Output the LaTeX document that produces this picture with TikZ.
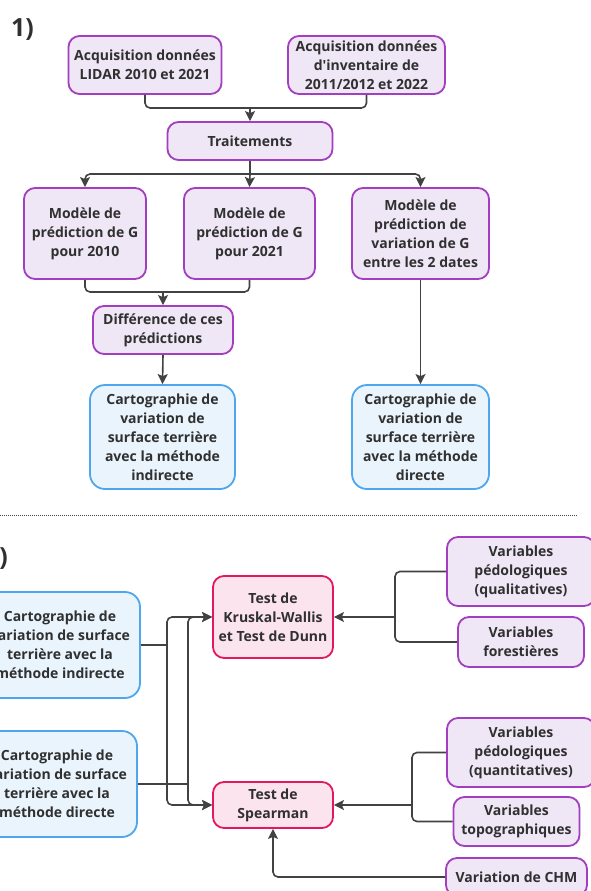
\documentclass[tikz,border=0pt]{standalone}
\usepackage{fontspec}
\setmainfont{Open Sans}
\usetikzlibrary{arrows.meta}

\definecolor{boxpurple}{HTML}{A33EC0}
\definecolor{fillpurple}{HTML}{EFE6F6}
\definecolor{boxblue}{HTML}{4DA6EE}
\definecolor{fillblue}{HTML}{E9F4FD}
\definecolor{boxpink}{HTML}{E2195F}
\definecolor{fillpink}{HTML}{FBE4EE}
\definecolor{linegray}{HTML}{424242}
\definecolor{textgray}{HTML}{303030}

\begin{document}
\begin{tikzpicture}[x=1pt, y=-1pt,
    box/.style={draw, line width=1.8pt, rounded corners=11pt, align=center,
      inner sep=0pt, font=\fontsize{14}{19}\selectfont\bfseries, text=textgray},
    size/.style 2 args={minimum width=#1pt, minimum height=#2pt},
    purplebox/.style={box, draw=boxpurple, fill=fillpurple},
    bluebox/.style={box, draw=boxblue, fill=fillblue},
    pinkbox/.style={box, draw=boxpink, fill=fillpink},
    line/.style={draw=linegray, line width=1.6pt, rounded corners=5pt},
    arrow/.style={line, -{Stealth[length=10pt, width=10pt, inset=2pt]}},
    numlabel/.style={font=\fontsize{25}{30}\selectfont\bfseries, text=textgray, inner sep=0pt}
  ]

  \path[use as bounding box, fill=white] (0,0) rectangle (590,891);

  % --- partie 1 ---
  \node[numlabel, anchor=base west] (num1) at (11,37) {1)};

  \node[purplebox, size={153}{58}] (acqlidar) at (145,65)
    {Acquisition données\\LIDAR 2010 et 2021};
  \node[purplebox, size={157}{58}] (acqinv) at (366.5,65)
    {Acquisition données\\d\textquotesingle inventaire de\\2011/2012 et 2022};
  \node[purplebox, size={165}{38}] (traitements) at (250,141) {Traitements};

  \node[purplebox, size={122}{91}] (pred2010) at (85,233.5)
    {Modèle de\\prédiction de G\\pour 2010};
  \node[purplebox, size={131}{91}] (pred2021) at (249.5,233.5)
    {Modèle de\\prédiction de G\\pour 2021};
  \node[purplebox, size={137}{91}] (predvar) at (420.5,233.5)
    {Modèle de\\prédiction de\\variation de G\\entre les 2 dates};

  \node[purplebox, size={140}{48}] (diff) at (163,330)
    {Différence de ces\\prédictions};

  \node[bluebox, rounded corners=15pt, size={145}{104}] (cartoind) at (162.5,437)
    {Cartographie de\\variation de\\surface terrière\\avec la méthode\\indirecte};
  \node[bluebox, rounded corners=15pt, size={137}{104}] (cartodir) at (420.5,437)
    {Cartographie de\\variation de\\surface terrière\\avec la méthode\\directe};

  \coordinate (j1) at (250,108);
  \coordinate (j2) at (250,174);
  \coordinate (j3) at (163,292);

  \draw[line] (acqlidar.south) |- (j1);
  \draw[line] (acqinv.south) |- (j1);
  \draw[arrow] (j1) -- (traitements.north);

  \draw[line] (traitements.south) -- (j2);
  \draw[arrow] (j2) -| (pred2010.north);
  \draw[arrow] (j2) -- (pred2021.north);
  \draw[arrow] (j2) -| (predvar.north);

  \draw[line] (pred2010.south) |- (j3);
  \draw[line] (pred2021.south) |- (j3);
  \draw[arrow] (j3) -- (diff.north);

  \draw[arrow] (diff.south) -- (cartoind.north);
  \draw[arrow] (predvar.south) -- (cartodir.north);

  % separation
  \draw[linegray, line width=1pt, dash pattern=on 1pt off 1pt] (0,515.7) -- (577,515.7);

  % --- partie 2 ---
  \node[numlabel, anchor=base east] (num2) at (8,565) {2)};

  \node[bluebox, rounded corners=15pt, size={160}{106}] (cartoind2) at (60,645)
    {Cartographie de\\variation de surface\\terrière avec la\\méthode indirecte};
  \node[bluebox, rounded corners=15pt, size={160}{106}] (cartodir2) at (57,784)
    {Cartographie de\\variation de surface\\terrière avec la\\méthode directe};

  \node[pinkbox, size={120}{82}] (kruskal) at (273,617)
    {Test de\\Kruskal-Wallis\\et Test de Dunn};
  \node[pinkbox, size={120}{46}] (spearman) at (273,805)
    {Test de\\Spearman};

  \node[purplebox, size={148}{69}] (pedqual) at (521,571.5)
    {Variables\\pédologiques\\(qualitatives)};
  \node[purplebox, size={126}{50}] (forest) at (521,642)
    {Variables\\forestières};
  \node[purplebox, size={148}{69}] (pedquant) at (521,752.5)
    {Variables\\pédologiques\\(quantitatives)};
  \node[purplebox, size={126}{49}] (topo) at (516.5,821.5)
    {Variables\\topographiques};
  \node[purplebox, size={141}{38}] (chm) at (516.5,877)
    {Variation de CHM};

  \coordinate (b1) at (167,645);
  \coordinate (b2) at (188,784);
  \coordinate (k1) at (395,617);
  \coordinate (s1) at (412,805);

  \draw[line] (cartoind2.east) -- (b1);
  \draw[arrow] (b1) |- (kruskal.west);
  \draw[arrow] (b1) |- (spearman.west);
  \draw[line] (cartodir2.east) -- (b2);
  \draw[arrow] (b2) |- (kruskal.west);
  \draw[arrow] (b2) |- (spearman.west);

  \draw[line] (pedqual.west) -| (k1);
  \draw[line] (forest.west) -| (k1);
  \draw[arrow] (k1) -- (kruskal.east);

  \draw[line] (pedquant.west) -| (s1);
  \draw[line] (topo.west) -| (s1);
  \draw[arrow] (s1) -- (spearman.east);

  \draw[arrow] (chm.west) -| (spearman.south);

\end{tikzpicture}
\end{document}
